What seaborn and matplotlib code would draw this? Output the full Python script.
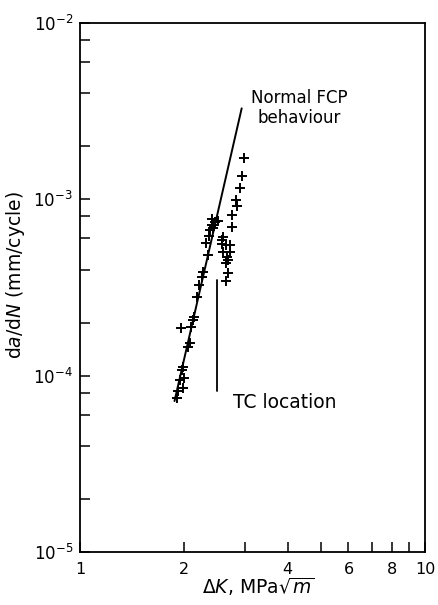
import numpy as np
import pandas as pd
import matplotlib
matplotlib.use("Agg")
import matplotlib.pyplot as plt
from matplotlib.ticker import FixedLocator, FixedFormatter, LogLocator, NullFormatter, NullLocator
import seaborn as sns

# Fatigue crack propagation data: stress intensity range vs growth rate
dk_before = [1.907, 1.927, 1.993, 1.950, 2.002, 1.971, 1.993, 2.084, 2.060,
             2.098, 2.130, 2.147, 1.958, 2.179, 2.217, 2.253, 2.273, 2.345,
             2.314, 2.381, 2.408, 2.430, 2.462, 2.507, 2.421, 2.373]
dadn_before = [7.46e-5, 8.18e-5, 8.51e-5, 9.44e-5, 9.69e-5, 1.076e-4, 1.123e-4,
               1.531e-4, 1.459e-4, 1.894e-4, 2.067e-4, 2.158e-4, 1.854e-4,
               2.80e-4, 3.27e-4, 3.64e-4, 3.88e-4, 4.83e-4, 5.65e-4, 6.70e-4,
               7.15e-4, 6.87e-4, 7.43e-4, 7.56e-4, 7.73e-4, 6.23e-4]

dk_after = [2.988, 2.958, 2.910, 2.833, 2.861, 2.767, 2.767, 2.605, 2.588,
            2.574, 2.658, 2.721, 2.603, 2.721, 2.662, 2.691, 2.641, 2.680, 2.650]
dadn_after = [1.715e-3, 1.356e-3, 1.159e-3, 9.91e-4, 9.22e-4, 8.15e-4, 6.94e-4,
              6.13e-4, 5.88e-4, 5.61e-4, 5.50e-4, 5.50e-4, 5.04e-4, 5.04e-4,
              4.71e-4, 4.52e-4, 4.34e-4, 3.84e-4, 3.44e-4]

# Normal FCP behaviour (Paris-law line) end points
fit_dk = [1.879, 2.942]
fit_dadn = [7.18e-5, 3.28e-3]

# Transition (TC) location marker
tc_dk = [2.5, 2.5]
tc_dadn = [8.2e-5, 3.5e-4]

x_ticks = [1, 2, 3, 4, 5, 6, 7, 8, 9, 10]
x_ticklabels = ["1", "2", "", "4", "", "6", "", "8", "", "10"]

sns.set_theme(style="white")
plt.rcParams["font.family"] = ["DejaVu Sans"]
plt.rcParams["mathtext.fontset"] = "dejavusans"
plt.rcParams["text.color"] = "black"
plt.rcParams["axes.labelcolor"] = "black"
plt.rcParams["xtick.color"] = "black"
plt.rcParams["ytick.color"] = "black"

points = pd.DataFrame({
    "dK": dk_before + dk_after,
    "dadN": dadn_before + dadn_after,
})

fig = plt.figure(figsize=(4.38, 6.05), dpi=100)
ax = fig.add_axes([80 / 438, 53 / 605, 345 / 438, 529 / 605])

sns.lineplot(x=fit_dk, y=fit_dadn, ax=ax, color="black", linewidth=1.4,
             estimator=None, sort=False)
sns.lineplot(x=tc_dk, y=tc_dadn, ax=ax, color="black", linewidth=1.3,
             estimator=None, sort=False, errorbar=None)
sns.scatterplot(data=points, x="dK", y="dadN", ax=ax, marker="+", s=55,
                color="black", linewidth=1.4)

ax.set_xscale("log")
ax.set_yscale("log")
ax.set_xlim(1, 10)
ax.set_ylim(1e-5, 1e-2)

ax.xaxis.set_major_locator(FixedLocator(x_ticks))
ax.xaxis.set_major_formatter(FixedFormatter(x_ticklabels))
ax.xaxis.set_minor_locator(NullLocator())
ax.yaxis.set_major_locator(LogLocator(base=10))
ax.yaxis.set_minor_locator(LogLocator(base=10, subs=(2, 4, 6, 8)))
ax.yaxis.set_minor_formatter(NullFormatter())

for side in ["left", "bottom", "top", "right"]:
    ax.spines[side].set_color("black")
    ax.spines[side].set_linewidth(1.3)

ax.tick_params(axis="both", which="both", direction="in", length=7, width=1.1,
               color="black", labelcolor="black",
               bottom=True, left=True, top=False, right=False)
ax.tick_params(axis="x", which="major", labelsize=11.5, pad=7)
ax.tick_params(axis="y", which="major", labelsize=12, pad=5)

ax.set_xlabel(r"$\Delta K$, MPa$\sqrt{m}$", fontsize=13.5, color="black")
ax.set_ylabel(r"d$a$/d$N$ (mm/cycle)", fontsize=13.5, color="black")
ax.xaxis.set_label_coords(0.516, -0.045)
ax.yaxis.set_label_coords(-0.155, 0.524)

ax.text(4.31, 3.3e-3, "Normal FCP\nbehaviour", ha="center", va="center",
        fontsize=12, linespacing=1.1, color="black")
ax.text(2.777, 7.0e-5, "TC location", ha="left", va="center",
        fontsize=13.5, color="black")

fig.savefig("out.png", dpi=100, facecolor="white")
